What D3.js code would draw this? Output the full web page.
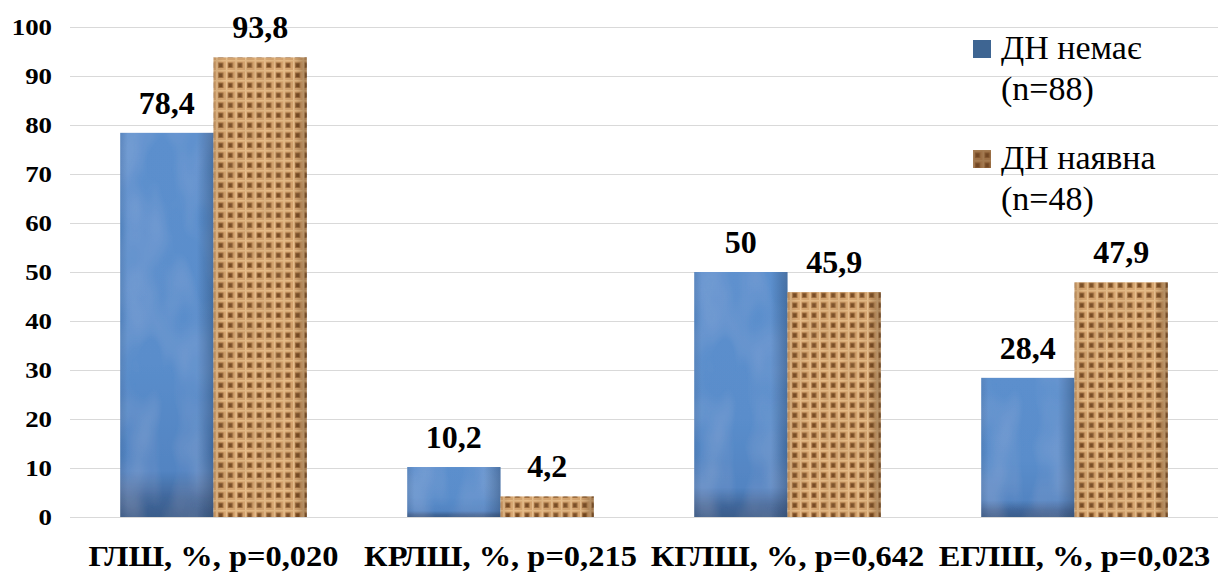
<!DOCTYPE html>
<html>
<head>
<meta charset="utf-8">
<script src="https://cdn.jsdelivr.net/npm/d3@7"></script>
<style>
  html, body { margin: 0; padding: 0; background: #fff; }
  svg { display: block; }
  .serif { font-family: "Liberation Serif", "Times New Roman", serif; }
</style>
</head>
<body>
<div id="chart"></div>
<script>
// Categories, series and tick labels
const categories = ["ГЛШ, %, p=0,020", "КРЛШ, %, p=0,215", "КГЛШ, %, p=0,642", "ЕГЛШ, %, p=0,023"];
const seriesNames = ["ДН немає (n=88)", "ДН наявна (n=48)"];
const legendLines = [["ДН немає", "(n=88)"], ["ДН наявна", "(n=48)"]];
const noDN = [78.4, 10.2, 50, 28.4];
const withDN = [93.8, 4.2, 45.9, 47.9];
const valueLabels = [["78,4", "10,2", "50", "28,4"], ["93,8", "4,2", "45,9", "47,9"]];
const yTicks = [0, 10, 20, 30, 40, 50, 60, 70, 80, 90, 100];

const W = 1218, H = 572;
const margin = { top: 27, right: 0, bottom: 55, left: 70 };
const STRETCH = 1.12; // horizontal widening applied to axis text

const svg = d3.select("#chart").append("svg")
  .attr("width", W).attr("height", H);

const defs = svg.append("defs");

// Blue fill: vertical shading, darker base band
const blueGrad = defs.append("linearGradient").attr("id", "blueV")
  .attr("x1", 0).attr("y1", 0).attr("x2", 0).attr("y2", 1);
[[0, "#5b8fcd"], [0.6, "#5a8dcb"], [0.88, "#5284c2"], [0.95, "#41679b"], [1, "#3a5d8b"]]
  .forEach(([o, c]) => blueGrad.append("stop").attr("offset", o).attr("stop-color", c));
const blueH = defs.append("linearGradient").attr("id", "blueH")
  .attr("x1", 0).attr("y1", 0).attr("x2", 1).attr("y2", 0);
[[0, "#0c2340", 0.12], [0.08, "#0c2340", 0], [0.82, "#0c2340", 0], [1, "#0c2340", 0.3]]
  .forEach(([o, c, a]) => blueH.append("stop").attr("offset", o).attr("stop-color", c).attr("stop-opacity", a));

// soft marbling on the blue bars
const blueTex = defs.append("filter").attr("id", "blueTex")
  .attr("x", 0).attr("y", 0).attr("width", 1).attr("height", 1);
blueTex.append("feTurbulence").attr("type", "fractalNoise")
  .attr("baseFrequency", "0.03 0.015").attr("numOctaves", 2).attr("seed", 7).attr("result", "n");
blueTex.append("feColorMatrix").attr("in", "n").attr("type", "matrix")
  .attr("values", "0 0 0 0 0.85  0 0 0 0 0.92  0 0 0 0 1  0.22 0 0 0 -0.08").attr("result", "m");
blueTex.append("feComposite").attr("in", "m").attr("in2", "SourceGraphic").attr("operator", "in").attr("result", "mm");
blueTex.append("feMerge").call(m => {
  m.append("feMergeNode").attr("in", "SourceGraphic");
  m.append("feMergeNode").attr("in", "mm");
});

// Burlap weave pattern
const weave = defs.append("pattern").attr("id", "weave")
  .attr("patternUnits", "userSpaceOnUse").attr("width", 9.6).attr("height", 10);
weave.append("rect").attr("width", 9.6).attr("height", 10).attr("fill", "#d7a671");
weave.append("rect").attr("x", 2).attr("y", 2.5).attr("width", 5.2).attr("height", 5.5).attr("fill", "#a06e3f");
weave.append("rect").attr("x", 3).attr("y", 3.5).attr("width", 3.2).attr("height", 3.5).attr("fill", "#774b25");
weave.append("rect").attr("x", 0).attr("y", 0).attr("width", 1.4).attr("height", 10).attr("fill", "#eac393");
weave.append("rect").attr("x", 0).attr("y", 0).attr("width", 9.6).attr("height", 1.4).attr("fill", "#e6bc88");

// grainy variation over the weave
const grain = defs.append("filter").attr("id", "grain")
  .attr("x", 0).attr("y", 0).attr("width", 1).attr("height", 1);
grain.append("feTurbulence").attr("type", "fractalNoise")
  .attr("baseFrequency", "0.08 0.05").attr("numOctaves", 2).attr("seed", 3).attr("result", "n");
grain.append("feColorMatrix").attr("in", "n").attr("type", "matrix")
  .attr("values", "0 0 0 0 0.35  0 0 0 0 0.2  0 0 0 0 0.08  0.45 0 0 0 -0.15").attr("result", "m");
grain.append("feComposite").attr("in", "m").attr("in2", "SourceGraphic").attr("operator", "in").attr("result", "mm");
grain.append("feMerge").call(m => {
  m.append("feMergeNode").attr("in", "SourceGraphic");
  m.append("feMergeNode").attr("in", "mm");
});

const brownH = defs.append("linearGradient").attr("id", "brownH")
  .attr("x1", 0).attr("y1", 0).attr("x2", 1).attr("y2", 0);
[[0, "#3a1f08", 0.12], [0.1, "#3a1f08", 0], [0.86, "#3a1f08", 0], [1, "#3a1f08", 0.35]]
  .forEach(([o, c, a]) => brownH.append("stop").attr("offset", o).attr("stop-color", c).attr("stop-opacity", a));

const x0 = d3.scaleBand().domain(categories)
  .range([margin.left, W - margin.right]).paddingInner(0.35).paddingOuter(0.175);
const x1 = d3.scaleBand().domain([0, 1]).range([0, x0.bandwidth()]).padding(0);
const y = d3.scaleLinear().domain([0, 100]).range([H - margin.bottom, margin.top]);

// Gridlines
svg.append("g").selectAll("line").data(yTicks).join("line")
  .attr("x1", margin.left).attr("x2", W)
  .attr("y1", d => Math.round(y(d)) + 0.5).attr("y2", d => Math.round(y(d)) + 0.5)
  .attr("stroke", "#d9d9d9").attr("stroke-width", 1);

// Y axis labels
const yAxis = d3.axisLeft(y).tickValues(yTicks).tickSize(0).tickPadding(0);
const yG = svg.append("g").attr("transform", `translate(${margin.left - 18},0)`).call(yAxis);
yG.select(".domain").remove();
yG.attr("font-family", null).attr("font-size", null);
yG.selectAll("text").attr("class", "serif")
  .attr("font-weight", "bold").attr("font-size", 24).attr("fill", "#000")
  .attr("x", null).attr("dy", "0.33em")
  .attr("transform", `scale(${STRETCH},1)`);

// Bars
const series = [noDN, withDN];
const groups = svg.append("g").selectAll("g").data(categories).join("g")
  .attr("transform", d => `translate(${x0(d)},0)`);

groups.each(function (cat, ci) {
  const g = d3.select(this);
  series.forEach((vals, si) => {
    const bx = x1(si), bw = x1.bandwidth();
    const by = y(vals[ci]), bh = y(0) - y(vals[ci]);
    if (si === 0) {
      g.append("rect").attr("x", bx).attr("y", by).attr("width", bw).attr("height", bh)
        .attr("fill", "url(#blueV)").attr("filter", "url(#blueTex)");
      g.append("rect").attr("x", bx).attr("y", by).attr("width", bw).attr("height", bh)
        .attr("fill", "url(#blueH)");
    } else {
      g.append("rect").attr("x", bx).attr("y", by).attr("width", bw).attr("height", bh)
        .attr("fill", "url(#weave)").attr("filter", "url(#grain)");
      g.append("rect").attr("x", bx).attr("y", by).attr("width", bw).attr("height", bh)
        .attr("fill", "url(#brownH)");
    }
    g.append("text").attr("class", "serif")
      .attr("x", bx + bw / 2).attr("y", by - 19)
      .attr("text-anchor", "middle").attr("fill", "#000")
      .attr("font-weight", "bold").attr("font-size", 32)
      .text(valueLabels[si][ci]);
  });
});

// X axis labels
const xAxis = d3.axisBottom(x0).tickSize(0).tickPadding(0);
const xG = svg.append("g").attr("transform", `translate(0,${H - 6})`).call(xAxis);
xG.select(".domain").remove();
xG.attr("font-family", null).attr("font-size", null);
xG.selectAll("text").attr("class", "serif")
  .attr("font-weight", "bold").attr("font-size", 29).attr("fill", "#000")
  .attr("y", 0).attr("dy", null)
  .attr("transform", `scale(${STRETCH},1)`);

// Legend
const legend = svg.append("g").attr("transform", "translate(973,0)");
seriesNames.forEach((name, i) => {
  const top = 40 + i * 110;
  legend.append("rect").attr("x", 0).attr("y", top).attr("width", 18).attr("height", 18)
    .attr("fill", i === 0 ? "#3e6592" : "url(#weave)");
  if (i === 1) legend.append("rect").attr("x", 0).attr("y", top).attr("width", 18).attr("height", 18)
    .attr("fill", "#6b4423").attr("opacity", 0.55);
  legendLines[i].forEach((line, li) => {
    legend.append("text").attr("class", "serif")
      .attr("x", 28).attr("y", top + 19 + li * 41)
      .attr("fill", "#000").attr("font-size", 34)
      .text(line);
  });
});
</script>
</body>
</html>
